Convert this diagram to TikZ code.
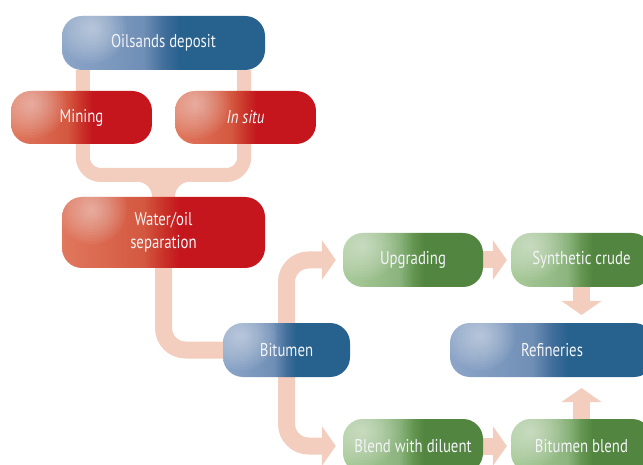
\documentclass[tikz,border=0pt]{standalone}
\usepackage{fontspec}
\setmainfont{PT Sans}[FakeStretch=0.8]
\usetikzlibrary{calc}
\pgfdeclarelayer{background}
\pgfsetlayers{background,main}
\definecolor{bluedark}{RGB}{39,97,142}
\definecolor{reddark}{RGB}{197,22,29}
\definecolor{greendark}{RGB}{82,133,64}
\definecolor{linkc}{RGB}{243,205,190}
\definecolor{txt}{RGB}{242,244,246}
\definecolor{bA}{RGB}{140,165,200}
\definecolor{bB}{RGB}{112,143,182}
\definecolor{bC}{RGB}{66,110,155}
\definecolor{rA}{RGB}{224,120,94}
\definecolor{rB}{RGB}{212,88,64}
\definecolor{rC}{RGB}{201,50,40}
\definecolor{gA}{RGB}{170,203,155}
\definecolor{gB}{RGB}{140,180,125}
\definecolor{gC}{RGB}{100,150,82}
\pgfdeclarehorizontalshading{blueshade}{100bp}{color(0bp)=(bA); color(25bp)=(bA); color(45bp)=(bB); color(50bp)=(bC); color(54bp)=(bluedark); color(100bp)=(bluedark)}
\pgfdeclarehorizontalshading{redshade}{100bp}{color(0bp)=(rA); color(25bp)=(rA); color(45bp)=(rB); color(50bp)=(rC); color(54bp)=(reddark); color(100bp)=(reddark)}
\pgfdeclarehorizontalshading{greenshade}{100bp}{color(0bp)=(gA); color(25bp)=(gA); color(45bp)=(gB); color(50bp)=(gC); color(54bp)=(greendark); color(100bp)=(greendark)}
\tikzset{
  box/.style={rounded corners=20pt, minimum height=54pt, inner sep=0pt, text=txt,
    font=\fontsize{18.5}{23}\selectfont, align=center,
    path picture={
      \coordinate (gc) at ($(path picture bounding box.north west)!0.15!(path picture bounding box.north east)+(0pt,-13pt)$);
      \foreach \r in {34,31,...,4}{\fill[white,opacity=0.05] (gc) circle (\r pt);}}},
  bluebox/.style={box, shading=blueshade},
  redbox/.style={box, shading=redshade},
  greenbox/.style={box, shading=greenshade},
  conn/.style={draw=linkc, line width=#1},
  headr/.pic={\fill[linkc] (-14pt,20pt) -- (0pt,0pt) -- (-14pt,-20pt) -- cycle;}
}
\begin{document}
\begin{tikzpicture}[x=1pt,y=-1pt]
\useasboundingbox (0,0) rectangle (643,465);
\clip (0,0) rectangle (643,465);
\path
  (163.5,43)  node[bluebox, minimum width=203pt] (dep) {Oilsands deposit}
  (81.5,117.5) node[redbox, minimum width=141pt, minimum height=53pt] (mining) {Mining}
  (245.5,117.5) node[redbox, minimum width=141pt, minimum height=53pt] (insitu) {\itshape In situ}
  (163.5,232.5) node[redbox, minimum width=203pt, minimum height=71pt] (sep) {Water/oil\\separation}
  (286.5,350) node[bluebox, minimum width=127pt] (bit) {Bitumen}
  (413,260)   node[greenbox, minimum width=140pt] (upg) {Upgrading}
  (581.5,260) node[greenbox, minimum width=141pt] (syn) {Synthetic crude}
  (552,350)   node[bluebox, minimum width=204pt] (ref) {Refineries}
  (413,446)   node[greenbox, minimum width=140pt] (blend) {Blend with diluent}
  (581.5,446) node[greenbox, minimum width=141pt] (bblend) {Bitumen blend};
\begin{pgfonlayer}{background}
  % oilsands -> mining / in situ -> separation
  \draw[conn=14pt, rounded corners=18pt]
    ([xshift=21pt]dep.south west) -- ([xshift=21pt]dep.south west |- 0,175)
    -- ([xshift=-21pt]dep.south east |- 0,175) -- ([xshift=-21pt]dep.south east);
  \fill[linkc] ([xshift=-26.5pt]sep.north |- 0,175) rectangle ([xshift=26.5pt]sep.north);
  \fill[white] ([xshift=-26.5pt]sep.north) circle (15pt);
  \fill[white] ([xshift=26.5pt]sep.north) circle (15pt);
  % separation -> bitumen
  \draw[conn=17pt, rounded corners=22pt] (sep.south) |- (bit.west);
  % bitumen -> upgrading / blend
  \draw[conn=17pt, rounded corners=22pt] (bit.center) |- ([xshift=-20pt]upg.west);
  \pic at ([xshift=-7pt]upg.west) {headr};
  \draw[conn=17pt, rounded corners=22pt] (bit.center) |- ([xshift=-20pt]blend.west);
  \pic at ([xshift=-7pt]blend.west) {headr};
  % upgrading -> synthetic crude
  \draw[conn=17pt] (upg.east) -- ([xshift=-18pt]syn.west);
  \pic at ([xshift=-4pt]syn.west) {headr};
  % blend -> bitumen blend
  \draw[conn=17pt] (blend.east) -- ([xshift=-18pt]bblend.west);
  \pic at ([xshift=-4pt]bblend.west) {headr};
  % synthetic crude -> refineries
  \draw[conn=17pt] (syn.south) -- ([yshift=-14pt]syn.south);
  \pic[rotate=-90] at (syn.south |- 0,315) {headr};
  % bitumen blend -> refineries
  \draw[conn=17pt] (bblend.north) -- ([yshift=18pt]bblend.north);
  \pic[rotate=90] at (bblend.north |- 0,388) {headr};
\end{pgfonlayer}
\end{tikzpicture}
\end{document}
